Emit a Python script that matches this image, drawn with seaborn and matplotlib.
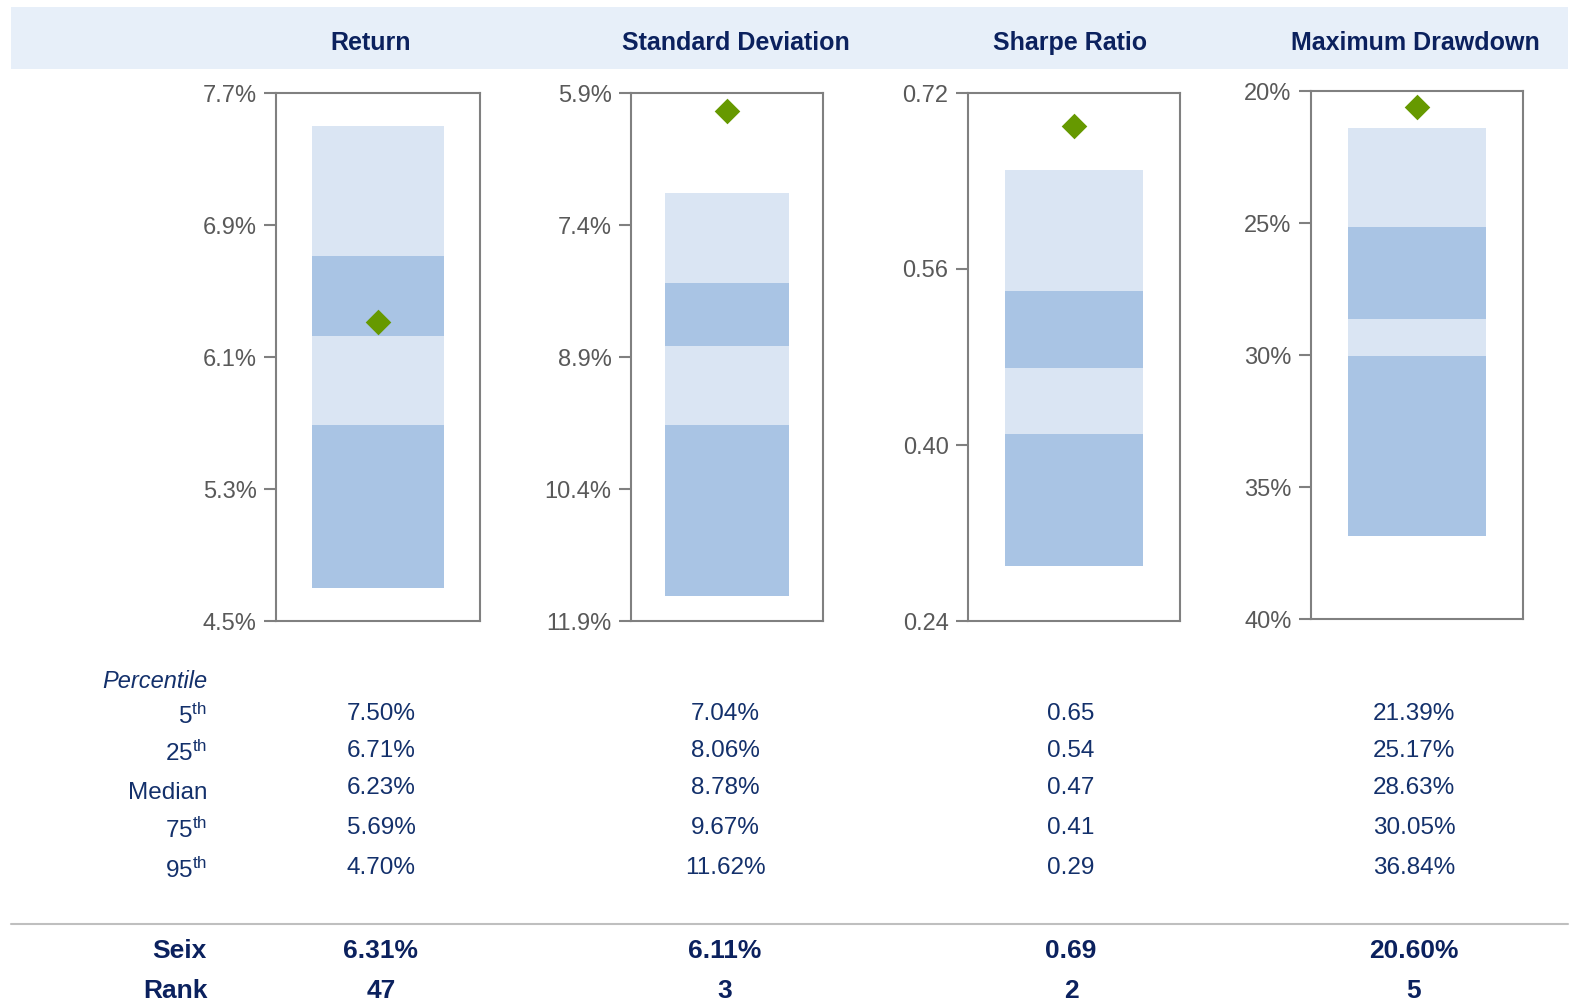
import matplotlib
matplotlib.use("Agg")
import matplotlib.pyplot as plt
from matplotlib import font_manager as fm
from matplotlib.patches import Rectangle
from matplotlib.lines import Line2D
import seaborn as sns

# ---- data ----
metrics = ["Return", "Standard Deviation", "Sharpe Ratio", "Maximum Drawdown"]
pct_labels = ["5$^{\\mathrm{th}}$", "25$^{\\mathrm{th}}$", "Median", "75$^{\\mathrm{th}}$", "95$^{\\mathrm{th}}$"]

return_pct = [7.50, 6.71, 6.23, 5.69, 4.70]
stdev_pct = [7.04, 8.06, 8.78, 9.67, 11.62]
sharpe_pct = [0.65, 0.54, 0.47, 0.41, 0.29]
maxdd_pct = [21.39, 25.17, 28.63, 30.05, 36.84]

seix_values = [6.31, 6.11, 0.69, 20.60]
rank_values = [47, 3, 2, 5]

return_ticks = [4.5, 5.3, 6.1, 6.9, 7.7]
stdev_ticks = [5.9, 7.4, 8.9, 10.4, 11.9]
sharpe_ticks = [0.24, 0.40, 0.56, 0.72]
maxdd_ticks = [20, 25, 30, 35, 40]

# ---- style ----
sns.set_theme(style="white")
avail = {f.name for f in fm.fontManager.ttflist}
narrow = "Liberation Sans Narrow" if "Liberation Sans Narrow" in avail else "Liberation Sans"
plt.rcParams["font.family"] = ["Liberation Sans", "DejaVu Sans"]
plt.rcParams["mathtext.fontset"] = "custom"
plt.rcParams["mathtext.rm"] = "Liberation Sans"
plt.rcParams["mathtext.it"] = "Liberation Sans:italic"

bold_size = 20 if narrow == "Liberation Sans Narrow" else 18
NAVY = "#0B215E"
TEXT = "#13306B"
GRAY = "#808080"
LIGHT = "#DAE5F3"
DARK = "#A9C4E4"
GREEN = "#669900"

W, H = 1572, 1002
fig = plt.figure(figsize=(W / 100, H / 100), dpi=100)


def fx(x):
    return x / W


def fy(y):
    return 1 - y / H


# header band
fig.patches.append(Rectangle((fx(11), fy(69)), fx(1568) - fx(11), fy(7) - fy(69),
                             transform=fig.transFigure, facecolor="#E7EFF9",
                             edgecolor="none", zorder=0))

panels = [
    # (percentiles, ticks, tick format, inverted, box left, box width, box top)
    (return_pct, return_ticks, "{:.1f}%", False, 276, 204, 93),
    (stdev_pct, stdev_ticks, "{:.1f}%", True, 631, 192, 93),
    (sharpe_pct, sharpe_ticks, "{:.2f}", False, 968, 212, 93),
    (maxdd_pct, maxdd_ticks, "{:.0f}%", True, 1311, 212, 91),
]
title_x = [371, 736, 1070, 1415]
col_x = [381, 725, 1071, 1414]
value_fmt = ["{:.2f}%", "{:.2f}%", "{:.2f}", "{:.2f}%"]

for i, (pct, ticks, tfmt, inverted, left, width, top) in enumerate(panels):
    ax = fig.add_axes([fx(left), fy(top + 528), width / W, 528 / H])
    band_colors = [LIGHT, DARK, LIGHT, DARK]
    for j in range(4):
        lo, hi = sorted([pct[j], pct[j + 1]])
        ax.bar(0, hi - lo, bottom=lo, width=1.3, color=band_colors[j],
               linewidth=0, zorder=1)
    sns.scatterplot(x=[0], y=[seix_values[i]], marker="D", s=170, color=GREEN,
                    linewidth=0, ax=ax, zorder=3)
    ax.set_xlabel("")
    ax.set_ylabel("")
    ax.set_xlim(-1, 1)
    if inverted:
        ax.set_ylim(ticks[-1], ticks[0])
    else:
        ax.set_ylim(ticks[0], ticks[-1])
    ax.set_yticks(ticks)
    ax.set_yticklabels([tfmt.format(t) for t in ticks])
    ax.set_xticks([])
    for sp in ax.spines.values():
        sp.set_visible(True)
        sp.set_color(GRAY)
        sp.set_linewidth(1.5)
    ax.tick_params(axis="y", left=True, length=9, width=1.5, color=GRAY,
                   labelcolor="#595959", labelsize=17, pad=5)

    fig.text(fx(title_x[i]), fy(43), metrics[i], ha="center", va="center",
             family=narrow, fontweight="bold", fontsize=bold_size, color=NAVY)

    # percentile table
    row_y = [714, 751, 788, 828, 868]
    for v, y in zip(pct, row_y):
        fig.text(fx(col_x[i]), fy(y), value_fmt[i].format(v), ha="center",
                 va="center", fontsize=17.5, color=TEXT)
    fig.text(fx(col_x[i]), fy(951), value_fmt[i].format(seix_values[i]),
             ha="center", va="center", family=narrow, fontweight="bold",
             fontsize=bold_size + 1, color=NAVY)
    fig.text(fx(col_x[i]), fy(991), str(rank_values[i]), ha="center",
             va="center", family=narrow, fontweight="bold",
             fontsize=bold_size + 1, color=NAVY)

fig.text(fx(207), fy(682), "Percentile", ha="right", va="center",
         style="italic", fontsize=17, color=TEXT)
label_y = [716, 753, 793, 830, 870]
for lab, y in zip(pct_labels, label_y):
    fig.text(fx(207), fy(y), lab, ha="right", va="center", fontsize=17.5, color=TEXT)

fig.lines.append(Line2D([fx(11), fx(1568)], [fy(924), fy(924)],
                        transform=fig.transFigure, color="#BFBFBF", linewidth=1.5))
fig.text(fx(206), fy(951), "Seix", ha="right", va="center", family=narrow,
         fontweight="bold", fontsize=bold_size + 1, color=NAVY)
fig.text(fx(208), fy(991), "Rank", ha="right", va="center", family=narrow,
         fontweight="bold", fontsize=bold_size + 1, color=NAVY)

fig.savefig("out.png", dpi=100, facecolor="white")
